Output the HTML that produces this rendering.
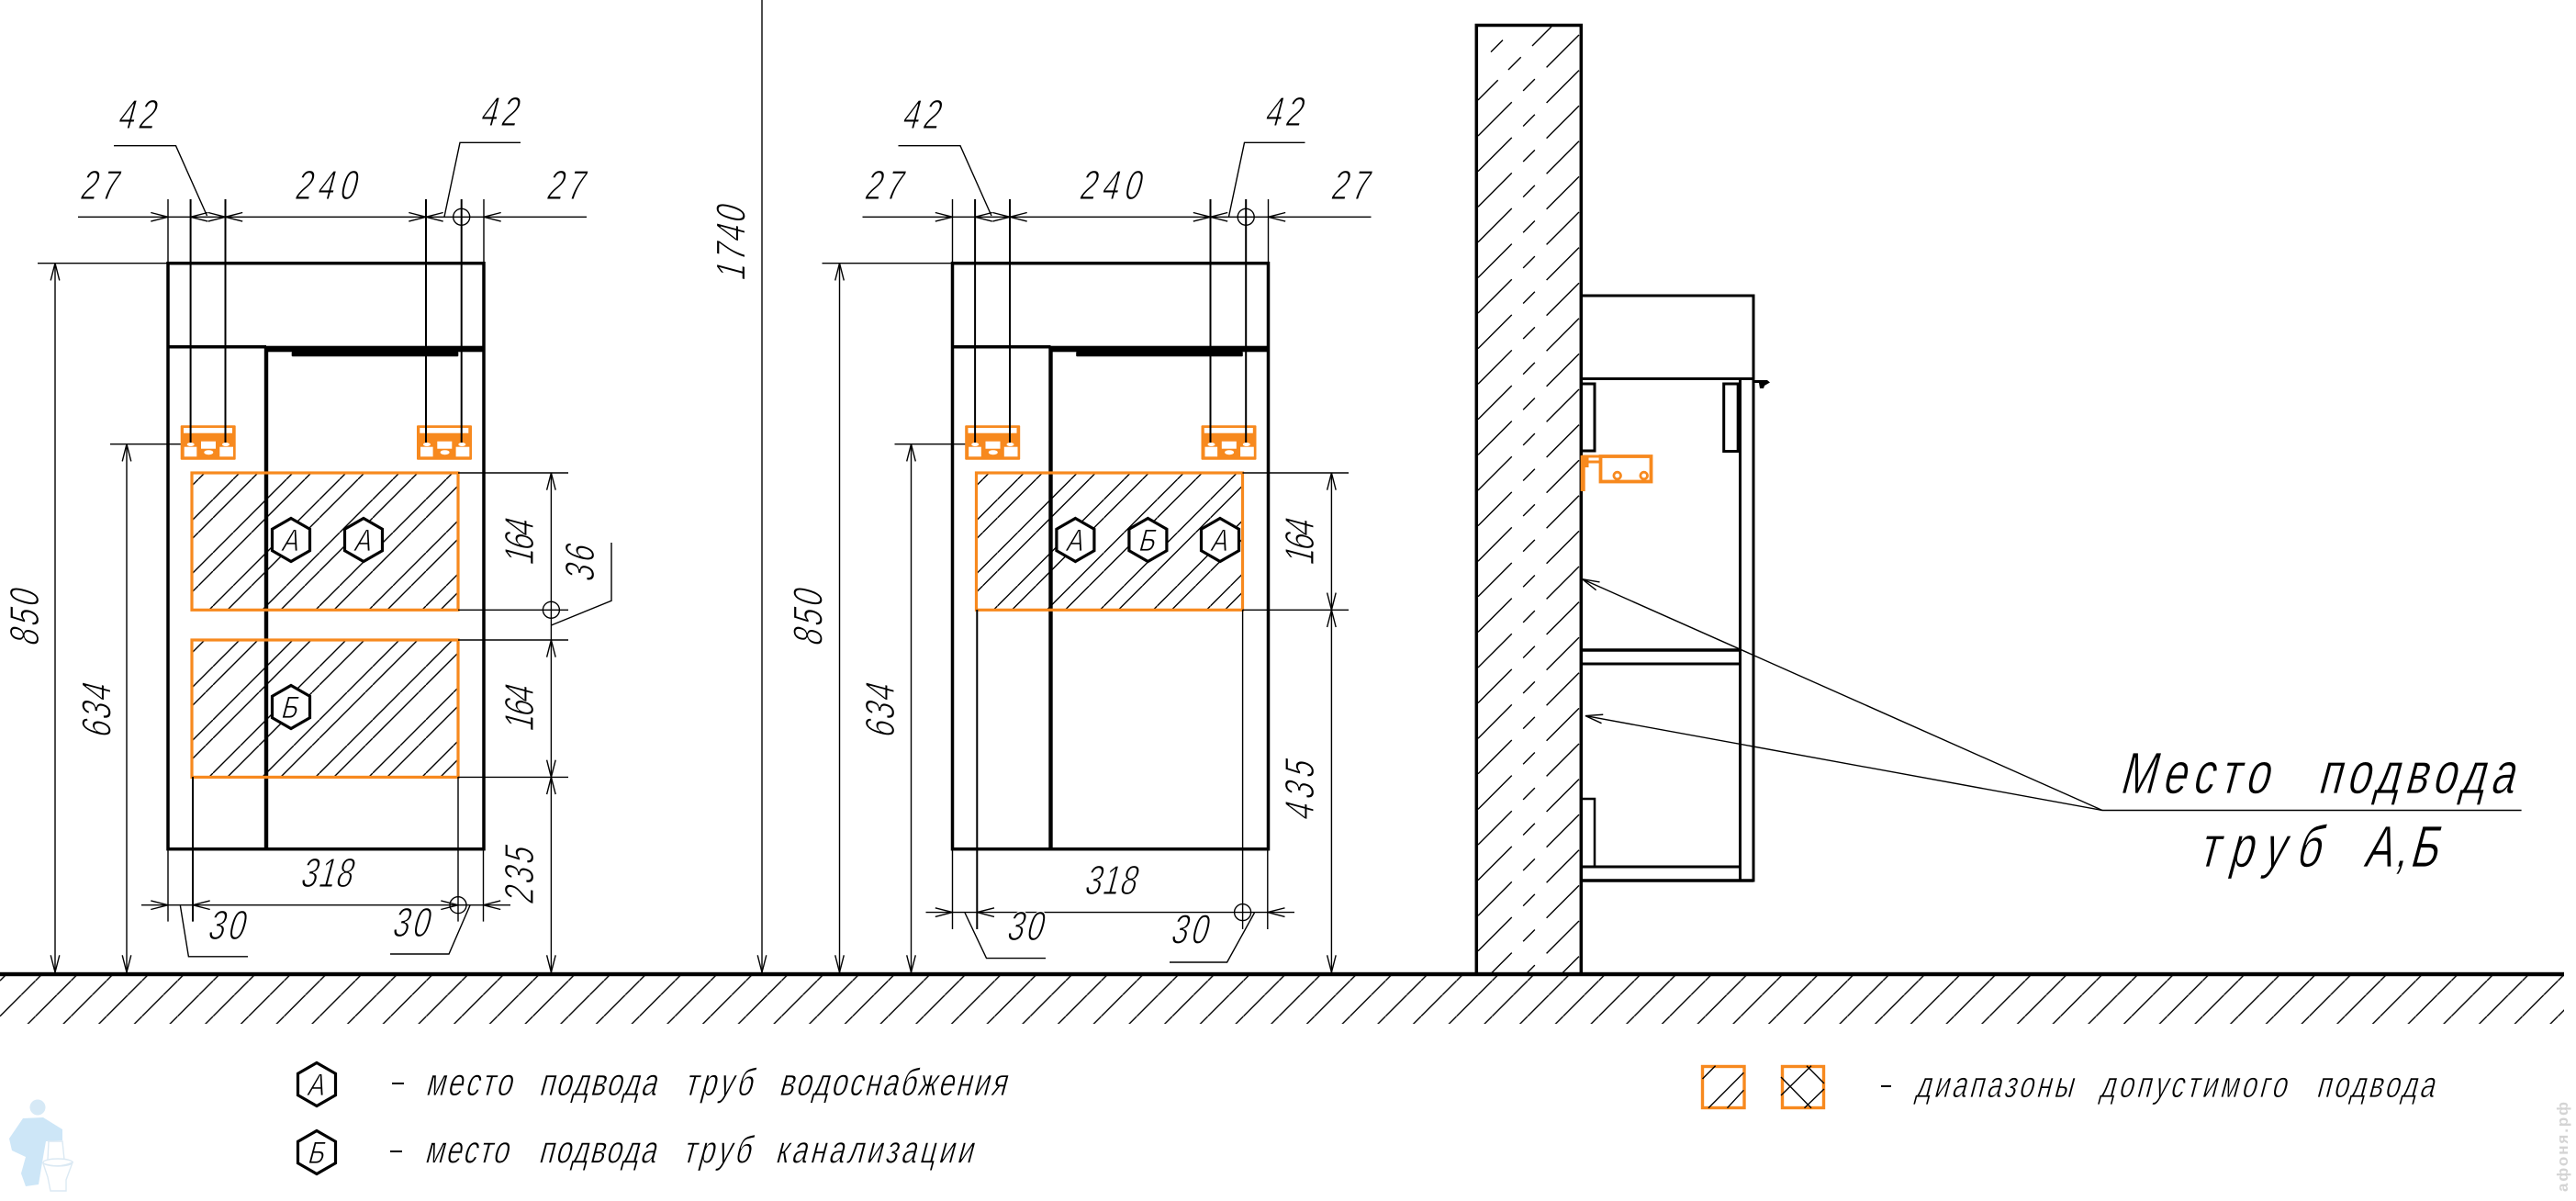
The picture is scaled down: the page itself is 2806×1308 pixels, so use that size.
<!DOCTYPE html>
<html><head><meta charset="utf-8"><style>
html,body{margin:0;padding:0;background:#fff}
svg{display:block}
.l{fill:none;stroke:#000;stroke-width:1.4}
.m{fill:none;stroke:#000;stroke-width:2}
.k{fill:none;stroke:#000;stroke-width:3.5}
.o{stroke:#F7891E;stroke-width:3.2}
.t{font-family:"Liberation Sans","DejaVu Sans",sans-serif;font-size:45px;fill:#000;stroke:#fff;stroke-width:1.1}
.u{font-family:"Liberation Sans","DejaVu Sans",sans-serif;fill:#000;stroke:#fff;stroke-width:.8}
.h{fill:#fff;stroke:#000;stroke-width:3.2}
</style></head><body>
<svg xmlns="http://www.w3.org/2000/svg" width="2806" height="1308" viewBox="0 0 2806 1308">
<defs>
<path id="a" d="M-18.7 -4.8L0 0L-18.7 4.8" fill="none" stroke="#000" stroke-width="1.4"/>
<pattern id="h1" patternUnits="userSpaceOnUse" width="58" height="58"><path d="M22 0L0 22M42 0L0 42M58 22L22 58M58 42L42 58" fill="none" stroke="#000" stroke-width="1.4"/></pattern>
<pattern id="h2" patternUnits="userSpaceOnUse" width="58" height="58"><path d="M30 0L0 30M50 0L0 50M58 30L30 58M58 50L50 58" fill="none" stroke="#000" stroke-width="1.4"/></pattern>
<pattern id="g" patternUnits="userSpaceOnUse" width="38.7" height="38.7"><path d="M23.15 0L0 23.15M38.7 23.15L23.15 38.7" fill="none" stroke="#000" stroke-width="1.4"/></pattern>
<clipPath id="wc"><rect x="1608" y="27.5" width="114" height="1033.5"/></clipPath>
<path id="hx" d="M0 -23.5L20.5 -11.7V11.7L0 23.5L-20.5 11.7V-11.7Z"/>
<g id="hg">
<rect x="196.7" y="463.3" width="60" height="37.4" rx="1" fill="#F7891E"/>
<rect x="200" y="466" width="53" height="5.7" fill="#fff"/>
<rect x="200.7" y="486.7" width="13.6" height="10.6" fill="#fff"/>
<rect x="219" y="480.7" width="16" height="8" fill="#fff"/>
<rect x="239.3" y="486.7" width="14.7" height="10.6" fill="#fff"/>
<ellipse cx="227.3" cy="492.7" rx="5" ry="2.5" fill="#fff"/>
<ellipse cx="207.7" cy="484" rx="4" ry="2" fill="#fff"/>
<ellipse cx="246" cy="484" rx="4" ry="2" fill="#fff"/>
</g>
<g id="top">
<path class="l" d="M85 236.3H639M183 217V287M527 217V287M41 286.7H183M124 158.7H191.5L225.5 235M567 155.3H501L484 236M120 483.7H207"/>
<circle class="l" cx="502.7" cy="236.3" r="9"/>
<path class="l" d="M60 286.7V1061M138 483.7V1061"/>
<use href="#a" transform="translate(183,236.3)"/>
<use href="#a" transform="translate(207.6,236.3) rotate(180)"/>
<use href="#a" transform="translate(245.5,236.3)"/>
<use href="#a" transform="translate(245.5,236.3) rotate(180)"/>
<use href="#a" transform="translate(464,236.3)"/>
<use href="#a" transform="translate(464,236.3) rotate(180)"/>
<use href="#a" transform="translate(527,236.3) rotate(180)"/>
<use href="#a" transform="translate(60,286.7) rotate(-90)"/>
<use href="#a" transform="translate(60,1059) rotate(90)"/>
<use href="#a" transform="translate(138,483.7) rotate(-90)"/>
<use href="#a" transform="translate(138,1059) rotate(90)"/>
<rect class="k" x="183" y="286.7" width="344" height="638"/>
<path class="k" d="M183 377.7H290"/>
<path d="M290 924.6V378" fill="none" stroke="#000" stroke-width="4.4"/>
<rect x="288.3" y="376.7" width="238.7" height="6.6" fill="#000"/>
<rect x="317.7" y="383" width="181.6" height="5.2" rx="1" fill="#000"/>
<use href="#hg"/>
<use href="#hg" x="257.3"/>
<path class="m" d="M207.6 217V482M245.5 217V482M464 217V482M502.7 217V482"/>
<rect class="o" x="209" y="515" width="290" height="149.3" fill="url(#h1)"/>
<text class="t" transform="translate(127,140) skewX(-15) scale(.72,1)" textLength="56">42</text>
<text class="t" transform="translate(522,137) skewX(-15) scale(.72,1)" textLength="56">42</text>
<text class="t" transform="translate(86,217) skewX(-15) scale(.72,1)" textLength="56">27</text>
<text class="t" transform="translate(320,217) skewX(-15) scale(.72,1)" textLength="92">240</text>
<text class="t" transform="translate(594,217) skewX(-15) scale(.72,1)" textLength="56">27</text>
</g>
</defs>

<!-- 1740 -->
<path d="M830 0V1061" fill="none" stroke="#222" stroke-width="1.6"/>
<use href="#a" transform="translate(830,1059) rotate(90)"/>
<text class="t" transform="translate(811.5,307) rotate(-90) skewX(-15) scale(.72,1)" textLength="112">1740</text>

<!-- LEFT -->
<use href="#top"/>
<rect class="o" x="209" y="697" width="290" height="149.4" fill="url(#h2)"/>
<path class="l" d="M499 515H619M499 664.3H619M499 697H619M499 846.4H619M600.4 515V1061"/>
<circle class="l" cx="600.4" cy="664.3" r="9"/>
<path class="l" d="M600.4 681L666 654.3V591"/>
<use href="#a" transform="translate(600.4,515) rotate(-90)"/>
<use href="#a" transform="translate(600.4,697) rotate(-90)"/>
<use href="#a" transform="translate(600.4,846.4) rotate(90)"/>
<use href="#a" transform="translate(600.4,846.4) rotate(-90)"/>
<use href="#a" transform="translate(600.4,1059) rotate(90)"/>
<path class="l" d="M154 985.7H556M183 925V1003.6M526.5 925V1003.6"/>
<path class="m" d="M210 846V1003.6"/>
<path class="l" d="M499 846V1003.6"/>
<circle class="l" cx="499" cy="985.7" r="9"/>
<use href="#a" transform="translate(183,985.7)"/>
<use href="#a" transform="translate(210,985.7) rotate(180)"/>
<use href="#a" transform="translate(499,985.7)"/>
<use href="#a" transform="translate(526.5,985.7) rotate(180)"/>
<path class="l" d="M196.4 986.4L205.4 1041.8H270M512 986L489 1039H425"/>
<use href="#hx" class="h" transform="translate(317,588)"/>
<use href="#hx" class="h" transform="translate(396,588)"/>
<use href="#hx" class="h" transform="translate(317,770)"/>
<text class="u" font-size="34" text-anchor="middle" transform="translate(315,600) skewX(-15) scale(.8,1)">А</text>
<text class="u" font-size="34" text-anchor="middle" transform="translate(394,600) skewX(-15) scale(.8,1)">А</text>
<text class="u" font-size="34" text-anchor="middle" transform="translate(314,782) skewX(-15) scale(.8,1)">Б</text>
<text class="t" transform="translate(42,705) rotate(-90) skewX(-15) scale(.72,1)" textLength="84">850</text>
<text class="t" transform="translate(120.5,805) rotate(-90) skewX(-15) scale(.72,1)" textLength="80">634</text>
<text class="t" transform="translate(581,617) rotate(-90) skewX(-15) scale(.72,1)" textLength="68">164</text>
<text class="t" transform="translate(581,798) rotate(-90) skewX(-15) scale(.72,1)" textLength="68">164</text>
<text class="t" transform="translate(581,986) rotate(-90) skewX(-15) scale(.72,1)" textLength="85">235</text>
<text class="t" transform="translate(647,635) rotate(-90) skewX(-15) scale(.72,1)" textLength="54">36</text>
<text class="t" transform="translate(326,966) skewX(-15) scale(.72,1)" textLength="78">318</text>
<text class="t" transform="translate(225,1023) skewX(-15) scale(.72,1)" textLength="55">30</text>
<text class="t" transform="translate(426,1020) skewX(-15) scale(.72,1)" textLength="55">30</text>

<!-- RIGHT -->
<use href="#top" x="854.5"/>
<path class="l" d="M1353.5 515H1469M1353.5 664.3H1469M1450.4 515V1061"/>
<use href="#a" transform="translate(1450.4,515) rotate(-90)"/>
<use href="#a" transform="translate(1450.4,664.3) rotate(90)"/>
<use href="#a" transform="translate(1450.4,664.3) rotate(-90)"/>
<use href="#a" transform="translate(1450.4,1059) rotate(90)"/>
<path class="l" d="M1008.5 993.6H1410M1037.5 925V1012M1380.8 925V1012"/>
<path class="m" d="M1064.3 664V1012"/>
<path class="l" d="M1353.6 664V1012"/>
<circle class="l" cx="1353.6" cy="993.6" r="9"/>
<use href="#a" transform="translate(1037.5,993.6)"/>
<use href="#a" transform="translate(1064.3,993.6) rotate(180)"/>
<use href="#a" transform="translate(1380.8,993.6) rotate(180)"/>
<path class="l" d="M1051 994L1074.5 1043.6H1139M1366.5 994L1336.6 1048H1274"/>
<use href="#hx" class="h" transform="translate(1171.4,588)"/>
<use href="#hx" class="h" transform="translate(1250.4,588)"/>
<use href="#hx" class="h" transform="translate(1329,588)"/>
<text class="u" font-size="34" text-anchor="middle" transform="translate(1169.4,600) skewX(-15) scale(.8,1)">А</text>
<text class="u" font-size="34" text-anchor="middle" transform="translate(1248,600) skewX(-15) scale(.8,1)">Б</text>
<text class="u" font-size="34" text-anchor="middle" transform="translate(1327,600) skewX(-15) scale(.8,1)">А</text>
<text class="t" transform="translate(895.5,705) rotate(-90) skewX(-15) scale(.72,1)" textLength="84">850</text>
<text class="t" transform="translate(974,805) rotate(-90) skewX(-15) scale(.72,1)" textLength="80">634</text>
<text class="t" transform="translate(1431,617) rotate(-90) skewX(-15) scale(.72,1)" textLength="68">164</text>
<text class="t" transform="translate(1431,895) rotate(-90) skewX(-15) scale(.72,1)" textLength="89">435</text>
<text class="t" transform="translate(1180,974) skewX(-15) scale(.72,1)" textLength="78">318</text>
<text class="t" transform="translate(1095.4,1024) skewX(-15) scale(.72,1)" textLength="54">30</text>
<text class="t" transform="translate(1274,1027.5) skewX(-15) scale(.72,1)" textLength="55">30</text>

<!-- FLOOR -->
<rect x="0" y="1063" width="2793" height="52" fill="url(#g)"/>
<rect x="0" y="1058.8" width="2793" height="4.4" fill="#000"/>

<!-- WALL -->
<g clip-path="url(#wc)">
<path d="M1610 148l110 -110M1610 186.6l110 -110M1610 225.2l110 -110M1610 263.8l110 -110M1610 302.4l110 -110M1610 341l110 -110M1610 379.6l110 -110M1610 418.2l110 -110M1610 456.8l110 -110M1610 495.4l110 -110M1610 534l110 -110M1610 572.6l110 -110M1610 611.2l110 -110M1610 649.8l110 -110M1610 688.4l110 -110M1610 727l110 -110M1610 765.6l110 -110M1610 804.2l110 -110M1610 842.8l110 -110M1610 881.4l110 -110M1610 920l110 -110M1610 958.6l110 -110M1610 997.2l110 -110M1610 1035.8l110 -110M1610 1074.4l110 -110M1610 1113l110 -110M1610 1151.6l110 -110" fill="none" stroke="#000" stroke-width="1.4" stroke-dasharray="52 17.5 18 18 52"/>
<path class="l" d="M1610 109L1631.7 87.3M1643 76L1656.7 62.3M1669 50L1690 29M1624 56.6L1637 43.6"/>
</g>
<path class="k" d="M1608.3 1061V27.5H1722.3V1061"/>

<!-- SIDE CABINET -->
<path d="M1722 322H1910V959H1722M1722 412.5H1910M1895.5 412.5V959" fill="none" stroke="#000" stroke-width="3"/>
<path class="k" d="M1722 708H1895"/>
<path d="M1722 723H1895M1722 944H1895" fill="none" stroke="#000" stroke-width="3"/>
<path class="k" d="M1722 959H1910"/>
<path d="M1722 870H1737V944" fill="none" stroke="#000" stroke-width="2.5"/>
<path d="M1723 418H1737V491H1723M1895.7 418H1877.7V491.5H1895.7" fill="none" stroke="#000" stroke-width="3"/>
<rect x="1891.7" y="418" width="4.5" height="74" fill="#000"/>
<path d="M1910 414H1925L1928 416.5L1922 420L1921 423L1917 423L1916 417H1910Z" fill="#000"/>
<path d="M1723.5 497H1744M1723.5 503H1744" fill="none" stroke="#F7891E" stroke-width="3"/>
<rect x="1721.7" y="496" width="5" height="39" fill="#F7891E"/>
<rect x="1726" y="496" width="4.5" height="13" fill="#F7891E"/>
<rect class="o" x="1743.5" y="497" width="55" height="27.5" fill="none" style="stroke-width:3.8"/>
<circle cx="1761.7" cy="518" r="3.8" fill="#fff" stroke="#F7891E" stroke-width="2.8"/>
<circle cx="1790.7" cy="518" r="3.8" fill="#fff" stroke="#F7891E" stroke-width="2.8"/>

<!-- LEADERS -->
<path class="l" d="M2746.6 882.5H2290"/>
<path class="l" d="M2290 882.5L1723.5 630.7"/>
<path class="l" d="M2290 882.5L1727 779.6"/>
<use href="#a" transform="translate(1723.5,630.7) rotate(204)"/>
<use href="#a" transform="translate(1727,779.6) rotate(190.4)"/>
<text class="u" font-size="64" transform="translate(2308,864) skewX(-15) scale(.72,1)" textLength="225">Место</text>
<text class="u" font-size="64" transform="translate(2524,864) skewX(-15) scale(.72,1)" textLength="296">подвода</text>
<text class="u" font-size="64" transform="translate(2394,944) skewX(-15) scale(.72,1)" textLength="183">труб</text>
<text class="u" font-size="64" transform="translate(2574,944) skewX(-15) scale(.72,1)" textLength="111">А,Б</text>

<!-- LEGEND -->
<use href="#hx" class="h" transform="translate(345,1181)"/>
<use href="#hx" class="h" transform="translate(345,1255)"/>
<text class="u" font-size="34" text-anchor="middle" transform="translate(343,1193) skewX(-15) scale(.8,1)">А</text>
<text class="u" font-size="34" text-anchor="middle" transform="translate(343,1267) skewX(-15) scale(.8,1)">Б</text>
<path class="m" d="M427 1180H440M425 1254H438M2049 1183H2060"/>
<g class="u" font-size="42">
<text class="u" transform="translate(463,1193) skewX(-15) scale(.72,1)" textLength="130">место</text>
<text class="u" transform="translate(586.6,1193) skewX(-15) scale(.72,1)" textLength="177">подвода</text>
<text class="u" transform="translate(745,1193) skewX(-15) scale(.72,1)" textLength="102">труб</text>
<text class="u" transform="translate(848,1193) skewX(-15) scale(.72,1)" textLength="343">водоснабжения</text>
<text class="u" transform="translate(462,1266.7) skewX(-15) scale(.72,1)" textLength="126">место</text>
<text class="u" transform="translate(586,1266.7) skewX(-15) scale(.72,1)" textLength="177">подвода</text>
<text class="u" transform="translate(743,1266.7) skewX(-15) scale(.72,1)" textLength="102">труб</text>
<text class="u" transform="translate(844,1266.7) skewX(-15) scale(.72,1)" textLength="298">канализации</text>
</g>
<g class="u" font-size="40">
<text class="u" transform="translate(2085.7,1195) skewX(-15) scale(.72,1)" textLength="238">диапазоны</text>
<text class="u" transform="translate(2286.5,1195) skewX(-15) scale(.72,1)" textLength="282">допустимого</text>
<text class="u" transform="translate(2522.5,1195) skewX(-15) scale(.72,1)" textLength="178">подвода</text>
</g>
<rect x="1854.5" y="1161.5" width="45.5" height="45" fill="none" stroke="#F7891E" stroke-width="3.4"/>
<rect x="1941.5" y="1161.5" width="45" height="45" fill="none" stroke="#F7891E" stroke-width="3.4"/>
<path class="l" d="M1854.5 1175L1868.6 1160.7M1861 1206.7L1899.4 1168.3M1881.5 1206.7L1899.4 1187.3M1968 1160.7L1987 1180M1973 1160.7L1940 1193M1940 1173L1973 1206.7M1987 1186L1965.5 1206.7"/>

<!-- MASCOT -->
<circle cx="41" cy="1206" r="8.5" fill="#d6e9f6"/>
<path d="M25 1218L47 1217L68 1230V1242L50 1243L47 1260L42 1290L28 1292L23 1278L28 1260L13 1253L10 1240Z" fill="#cde6f7"/>
<path d="M52 1243H68L70 1263M53 1243L52 1263M47 1267Q63 1273 79 1266L72 1285L72 1297H55L52 1282Z" fill="none" stroke="#dbe9f3" stroke-width="1.4"/>
<ellipse cx="63" cy="1266" rx="16" ry="4" fill="none" stroke="#dbe9f3" stroke-width="1.4"/>
<text transform="translate(2797,1298) rotate(-90)" font-family="Liberation Sans,sans-serif" font-weight="bold" font-size="17" fill="#d4d4d4" textLength="98">афоня.рф</text>
</svg>
</body></html>
